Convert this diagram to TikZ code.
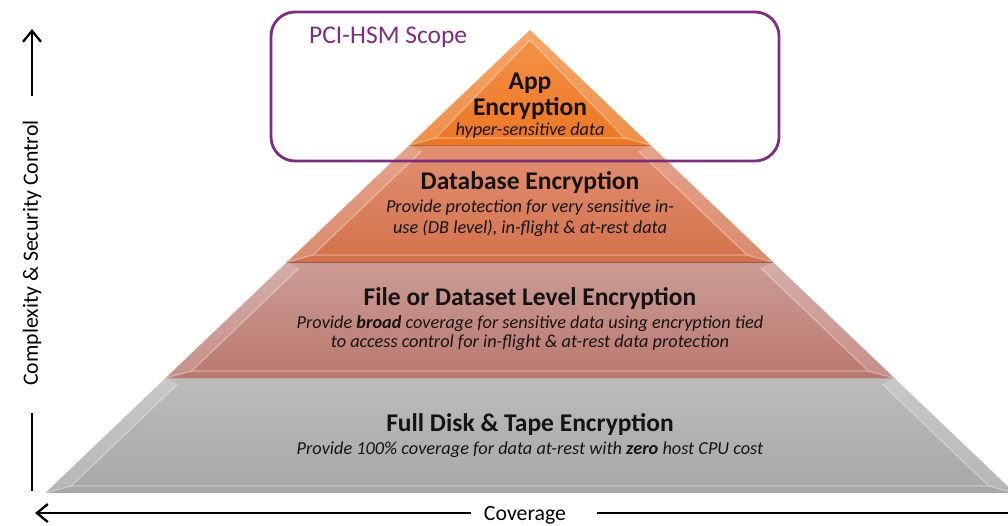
\documentclass[tikz,border=0pt]{standalone}
\usepackage{fontspec}
\setmainfont{Carlito}
\usetikzlibrary{arrows.meta,calc}

\definecolor{scope}{HTML}{7E2E82}
\definecolor{txt}{HTML}{141414}
\definecolor{appTop}{HTML}{F49448}
\definecolor{appBot}{HTML}{EC7622}
\definecolor{dbTop}{HTML}{E29071}
\definecolor{dbBot}{HTML}{D3714B}
\definecolor{fileTop}{HTML}{CB9C95}
\definecolor{fileBot}{HTML}{BA786E}
\definecolor{diskTop}{HTML}{BCBCBC}
\definecolor{diskBot}{HTML}{A7A7A7}

\tikzset{
  bevel/.style={draw=white, draw opacity=0.35, line width=1.2pt},
  sideband/.style={fill=white, fill opacity=0.18},
  tiertitle/.style={font=\fontsize{25.5}{25.5}\selectfont\bfseries, text=txt, inner sep=0pt},
  tiertext/.style={font=\fontsize{18.3}{20.5}\selectfont\itshape, text=txt, inner sep=0pt, align=center},
  axislabel/.style={font=\fontsize{21.8}{24}\selectfont, text=black, inner sep=0pt},
  axisline/.style={line width=2.3pt, black},
  axisarrow/.style={axisline, -{Straight Barb[length=11pt,width=18pt,line width=2.3pt]}},
}

\begin{document}
\begin{tikzpicture}[x=1pt,y=-1pt]
\useasboundingbox (0,0) rectangle (1008,525);

% pyramid geometry: apex and tier edges along the two sides
\coordinate (apex) at (530,30);
\def\sl{1.047}
\foreach \n/\yy in {a/145,b/262,c/378,d/493}{
  \coordinate (L\n) at ({530-\sl*(\yy-30)},\yy);
  \coordinate (R\n) at ({530+\sl*(\yy-30)},\yy);
}

\begin{scope}
\clip (0,0) rectangle (1008,525);
% bottom tier
\shade[top color=diskTop, bottom color=diskBot] (Lc) -- (Rc) -- (Rd) -- (Ld) -- cycle;
\fill[sideband] (Lc) -- ($(Lc)+(12,6)$) -- ($(Ld)+(26,-7)$) -- (Ld) -- cycle;
\fill[sideband] (Rc) -- ($(Rc)+(-12,6)$) -- ($(Rd)+(-26,-7)$) -- (Rd) -- cycle;
\draw[bevel] ($(Lc)+(12,6)$) -- ($(Ld)+(26,-7)$) -- ($(Rd)+(-26,-7)$) -- ($(Rc)+(-12,6)$);
\draw[bevel] (Ld) -- ($(Ld)+(26,-7)$) (Rd) -- ($(Rd)+(-26,-7)$);
\draw[black!30, line width=1.2pt] (Lc) -- (Rc);
% file tier
\shade[top color=fileTop, bottom color=fileBot] (Lb) -- (Rb) -- (Rc) -- (Lc) -- cycle;
\fill[sideband] (Lb) -- ($(Lb)+(12,6)$) -- ($(Lc)+(26,-7)$) -- (Lc) -- cycle;
\fill[sideband] (Rb) -- ($(Rb)+(-12,6)$) -- ($(Rc)+(-26,-7)$) -- (Rc) -- cycle;
\draw[bevel] ($(Lb)+(12,6)$) -- ($(Lc)+(26,-7)$) -- ($(Rc)+(-26,-7)$) -- ($(Rb)+(-12,6)$);
\draw[bevel] (Lc) -- ($(Lc)+(26,-7)$) (Rc) -- ($(Rc)+(-26,-7)$);
\draw[fileBot!75!black, line width=1.2pt] (Lb) -- (Rb);
% database tier
\shade[top color=dbTop, bottom color=dbBot] (La) -- (Ra) -- (Rb) -- (Lb) -- cycle;
\fill[sideband] (La) -- ($(La)+(12,6)$) -- ($(Lb)+(26,-7)$) -- (Lb) -- cycle;
\fill[sideband] (Ra) -- ($(Ra)+(-12,6)$) -- ($(Rb)+(-26,-7)$) -- (Rb) -- cycle;
\draw[bevel] ($(La)+(12,6)$) -- ($(Lb)+(26,-7)$) -- ($(Rb)+(-26,-7)$) -- ($(Ra)+(-12,6)$);
\draw[bevel] (Lb) -- ($(Lb)+(26,-7)$) (Rb) -- ($(Rb)+(-26,-7)$);
\draw[dbBot!85!black, line width=1.2pt] (La) -- (Ra);
% top tier
\shade[top color=appTop, bottom color=appBot] (apex) -- (Ra) -- (La) -- cycle;
\fill[sideband] (apex) -- ($(apex)+(0,10)$) -- ($(La)+(26,-7)$) -- (La) -- cycle;
\fill[sideband] (apex) -- ($(apex)+(0,10)$) -- ($(Ra)+(-26,-7)$) -- (Ra) -- cycle;
\draw[bevel] ($(apex)+(0,10)$) -- ($(La)+(26,-7)$) -- ($(Ra)+(-26,-7)$) -- cycle;
\draw[bevel] (La) -- ($(La)+(26,-7)$) (Ra) -- ($(Ra)+(-26,-7)$);
\end{scope}

% tier labels
\node[tiertitle, align=center] (appT) at (530,96) {App\\Encryption};
\node[tiertext] (appS) at (530,131) {hyper-sensitive data};

\node[tiertitle] (dbT) at (530,183) {Database Encryption};
\node[tiertext] (dbS) at (530,218) {Provide protection for very sensitive in-\\use (DB level), in-flight \& at-rest data};

\node[tiertitle] (fileT) at (530,299) {File or Dataset Level Encryption};
\node[tiertext, font=\fontsize{18.3}{19.5}\selectfont\itshape] (fileS) at (530,333) {Provide \textbf{broad} coverage for sensitive data using encryption tied\\to access control for in-flight \& at-rest data protection};

\node[tiertitle] (diskT) at (530,425) {Full Disk \& Tape Encryption};
\node[tiertext] (diskS) at (530,450) {Provide 100\% coverage for data at-rest with \textbf{zero} host CPU cost};

% scope frame
\draw[scope, line width=2.8pt, rounded corners=24pt] (271,12) rectangle (779,161);
\node[font=\fontsize{25.5}{28}\selectfont, text=scope, anchor=west, inner sep=0pt] (scopeL) at (309,37) {PCI-HSM Scope};

% axes
\node[axislabel, rotate=90] (yl) at (32,253) {Complexity \& Security Control};
\coordinate (yTop) at (32,29);
\coordinate (yUp) at (32,96);
\coordinate (yLow) at (32,413);
\coordinate (yBot) at (32,491);
\draw[axisarrow] (yUp) -- (yTop);
\draw[axisline] (yLow) -- (yBot);

\node[axislabel] (xl) at (525,515) {Coverage};
\coordinate (xLeft) at (35,513);
\coordinate (xMidL) at (471,513);
\coordinate (xMidR) at (597,513);
\coordinate (xRight) at (1008,513);
\draw[axisarrow] (xMidL) -- (xLeft);
\draw[axisline] (xMidR) -- (xRight);
\end{tikzpicture}
\end{document}
